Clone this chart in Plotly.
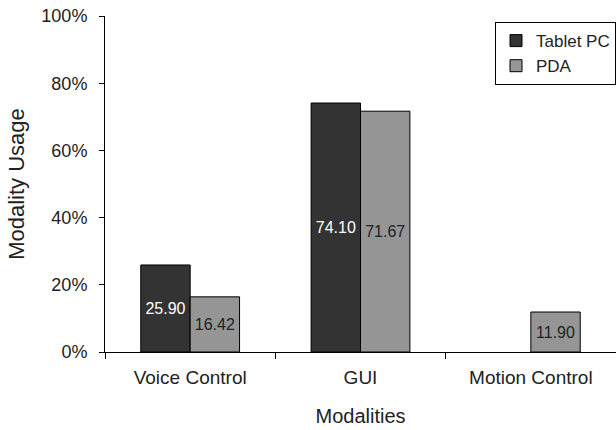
import plotly.graph_objects as go

categories = ["Voice Control", "GUI", "Motion Control"]
tablet_pc = [25.90, 74.10, None]
pda = [16.42, 71.67, 11.90]
tablet_labels = ["25.90", "74.10", ""]
pda_labels = ["16.42", "71.67", "11.90"]
y_ticks = [0, 20, 40, 60, 80, 100]
y_tick_labels = ["0%", "20%", "40%", "60%", "80%", "100%"]

font = "Liberation Sans, Arial, sans-serif"

fig = go.Figure()
fig.add_trace(go.Bar(
    name="Tablet PC", x=categories, y=tablet_pc, text=tablet_labels,
    textposition="inside", insidetextanchor="middle", legendgroup="a",
    textfont=dict(color="white", size=16, family=font),
    marker=dict(color="#333333", line=dict(color="black", width=1)),
))
fig.add_trace(go.Bar(
    name="PDA", x=categories, y=pda, text=pda_labels,
    textposition="inside", insidetextanchor="middle", legendgroup="b",
    textfont=dict(color="#222222", size=16, family=font),
    marker=dict(color="#959595", line=dict(color="black", width=1)),
))

fig.update_layout(
    width=616, height=430,
    margin=dict(l=105, r=0, t=16, b=78, autoexpand=False),
    paper_bgcolor="white", plot_bgcolor="white",
    barmode="group", bargap=0.42, bargroupgap=0,
    font=dict(family=font, size=18, color="#222222"),
    uniformtext=dict(minsize=16, mode="show"),
    legend=dict(
        x=1.0, y=0.982, xanchor="right", yanchor="top",
        bordercolor="black", borderwidth=1, bgcolor="white",
        font=dict(size=17), tracegroupgap=8, traceorder="normal",
    ),
    xaxis=dict(
        range=[-0.5, 2.5], showline=True, linecolor="black", linewidth=1,
        ticks="outside", tickson="boundaries", ticklen=6, tickcolor="black",
        tickfont=dict(size=19), ticklabelstandoff=8,
        title=dict(text="Modalities", font=dict(size=20), standoff=22),
        showgrid=False,
    ),
    yaxis=dict(
        range=[0, 100], tickvals=y_ticks, ticktext=y_tick_labels,
        showline=True, linecolor="black", linewidth=1,
        ticks="outside", ticklen=5, tickcolor="black",
        tickfont=dict(size=18), ticklabelstandoff=8,
        title=dict(text="Modality Usage", font=dict(size=22), standoff=10),
        showgrid=False, zeroline=False,
    ),
)

fig.write_html("out.html")
